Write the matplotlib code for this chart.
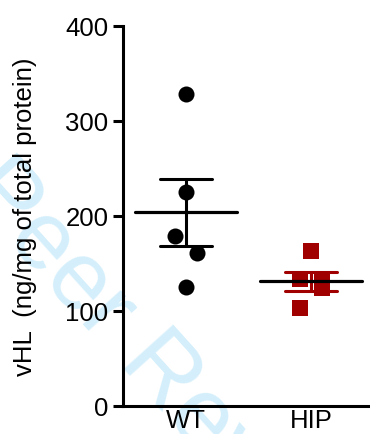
import matplotlib
matplotlib.use("Agg")
import matplotlib.pyplot as plt
import numpy as np

plt.rcParams['font.family'] = ['Liberation Sans', 'DejaVu Sans']

groups = ["WT", "HIP"]
wt_values = [328, 225, 178.9, 160.3, 125.2]
hip_values = [162.5, 133.6, 130.4, 124, 103]
wt_jitter = [0.0, 0.0, -0.09, 0.09, 0.0]
hip_jitter = [0.0, -0.09, 0.09, 0.09, -0.09]
yticks = [0, 100, 200, 300, 400]
ylabel = "vHL  (ng/mg of total protein)"

fig = plt.figure(figsize=(3.7, 4.35), dpi=100)
# watermark
fig.text(0.446, 0.131, "Peer Review", color="#d4effb", fontsize=70, rotation=-48,
         ha="center", va="center", zorder=-1)

ax = fig.add_axes([122.5/370, 28.3/435, 247.5/370, 380.2/435])
ax.patch.set_alpha(0)

data = [wt_values, hip_values]
jit = [wt_jitter, hip_jitter]
colors = ["black", "#a00000"]
markers = ["o", "s"]
for i, (vals, j) in enumerate(zip(data, jit)):
    vals = np.array(vals)
    xs = i + np.array(j)
    ax.scatter(xs, vals, s=(16**2 * 0.52) if markers[i] == "o" else (15.5**2 * 0.52),
               marker=markers[i], color=colors[i], zorder=3, linewidths=0)
    m = vals.mean()
    sem = vals.std(ddof=1) / np.sqrt(len(vals))
    ecol = colors[i]
    ax.plot([i, i], [m - sem, m + sem], color=ecol, lw=2.2, zorder=4, solid_capstyle="butt")
    ax.plot([i - 0.21, i + 0.21], [m + sem, m + sem], color=ecol, lw=2.2, zorder=4, solid_capstyle="round")
    ax.plot([i - 0.21, i + 0.21], [m - sem, m - sem], color=ecol, lw=2.2, zorder=4, solid_capstyle="round")
    ax.plot([i - 0.41, i + 0.41], [m, m], color="black", lw=2.3, zorder=5, solid_capstyle="round")

ax.set_xlim(-0.508, 1.472)
ax.set_ylim(0, 400)
ax.set_yticks(yticks)
ax.set_xticks([0, 1])
ax.set_xticklabels(groups)
ax.tick_params(axis="x", length=0, pad=2, labelsize=18.5)
ax.tick_params(axis="y", length=7.5, width=2.2, pad=2.5, labelsize=18.5)
for s in ["top", "right"]:
    ax.spines[s].set_visible(False)
for s in ["left", "bottom"]:
    ax.spines[s].set_linewidth(2.2)
ax.set_ylabel(ylabel, fontsize=18.5)
ax.yaxis.set_label_coords(-0.345, 0.5)

fig.savefig("out.png", dpi=100)
